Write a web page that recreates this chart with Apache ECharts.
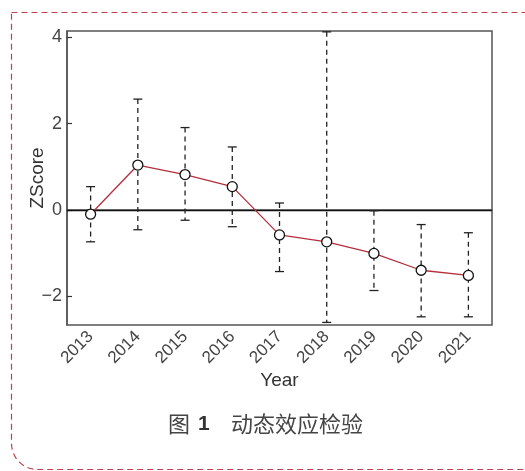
<!DOCTYPE html>
<html>
<head>
<meta charset="utf-8">
<style>
  html, body { margin: 0; padding: 0; background: #fff; }
  #chart { width: 525px; height: 471px; }
</style>
<script src="https://cdn.jsdelivr.net/npm/echarts@6/dist/echarts.min.js"></script>
</head>
<body>
<div id="chart"></div>
<script>
// Event-study estimates by year with confidence bounds
const years = ['2013', '2014', '2015', '2016', '2017', '2018', '2019', '2020', '2021'];
const zScore = [-0.10, 1.04, 0.82, 0.54, -0.58, -0.74, -1.01, -1.40, -1.52];
const upper = [0.54, 2.57, 1.91, 1.46, 0.16, 4.13, -0.02, -0.34, -0.53];
const lower = [-0.74, -0.46, -0.24, -0.39, -1.43, -2.61, -1.87, -2.48, -2.48];
const yTicks = [-2, 0, 2, 4];

const labelFont = 'Liberation Sans, Arial, sans-serif';
const cjkFont = '"Noto Sans CJK SC", sans-serif';

const errorData = years.map((y, i) => [i, upper[i], lower[i]]);

const chart = echarts.init(document.getElementById('chart'), null, { renderer: 'canvas' });

chart.setOption({
  animation: false,
  backgroundColor: '#fff',
  graphic: [
    {
      type: 'rect',
      left: 9, top: 10,
      shape: { width: 530, height: 457, r: [0, 12, 0, 26] },
      style: { fill: 'none', stroke: '#c1404f', lineWidth: 1.2, lineDash: [6, 4] },
      silent: true
    },
    {
      type: 'text',
      left: 168, top: 413,
      style: { text: '图', font: '22px ' + cjkFont, fill: '#444' }
    },
    {
      type: 'text',
      left: 198, top: 414,
      style: { text: '1', font: 'bold 21px ' + labelFont, fill: '#333' }
    },
    {
      type: 'text',
      left: 231, top: 413,
      style: { text: '动态效应检验', font: '22px ' + cjkFont, fill: '#444' }
    }
  ],
  grid: {
    left: 67, right: 33, top: 31, bottom: 146,
    show: true, borderColor: '#555', borderWidth: 1.5, backgroundColor: 'transparent'
  },
  xAxis: {
    type: 'category',
    data: years,
    boundaryGap: true,
    name: 'Year',
    nameLocation: 'middle',
    nameGap: 46,
    nameMoveOverlap: false,
    nameTextStyle: { fontFamily: labelFont, fontSize: 19, color: '#333' },
    axisLine: { lineStyle: { color: '#555', width: 1.5 } },
    axisTick: { inside: true, alignWithLabel: true, length: 5, lineStyle: { color: '#333', width: 1.2 } },
    axisLabel: {
      rotate: 45, fontFamily: labelFont, fontSize: 17, color: '#444', margin: 9
    },
    splitLine: { show: false }
  },
  yAxis: {
    type: 'value',
    min: -2.67, max: 4.15,
    name: 'ZScore',
    nameLocation: 'middle',
    nameGap: 20,
    nameMoveOverlap: false,
    nameTextStyle: { fontFamily: labelFont, fontSize: 19, color: '#333' },
    axisLine: { show: true, lineStyle: { color: '#555', width: 1.5 } },
    axisTick: { show: true, inside: true, length: 5, customValues: yTicks, lineStyle: { color: '#333', width: 1.2 } },
    axisLabel: {
      customValues: yTicks, fontFamily: labelFont, fontSize: 18, color: '#444', margin: 5,
      formatter: v => (v < 0 ? '\u2212' + Math.abs(v) : String(v))
    },
    splitLine: { show: false }
  },
  series: [
    {
      type: 'custom',
      name: 'CI',
      z: 2,
      data: errorData,
      encode: { x: 0, y: [1, 2] },
      renderItem: function (params, api) {
        const x = api.value(0);
        const pHi = api.coord([x, api.value(1)]);
        const pLo = api.coord([x, api.value(2)]);
        const half = 4.5;
        const solid = { stroke: '#222', lineWidth: 1.3 };
        return {
          type: 'group',
          children: [
            { type: 'line', shape: { x1: pHi[0], y1: pHi[1], x2: pLo[0], y2: pLo[1] },
              style: { stroke: '#222', lineWidth: 1.3, lineDash: [5, 4] } },
            { type: 'line', shape: { x1: pHi[0] - half, y1: pHi[1], x2: pHi[0] + half, y2: pHi[1] }, style: solid },
            { type: 'line', shape: { x1: pLo[0] - half, y1: pLo[1], x2: pLo[0] + half, y2: pLo[1] }, style: solid }
          ]
        };
      }
    },
    {
      type: 'line',
      name: 'ZScore',
      z: 5,
      data: zScore,
      symbol: 'circle',
      symbolSize: 10,
      lineStyle: { color: '#b52e3c', width: 1.3 },
      itemStyle: { color: '#fff', borderColor: '#111', borderWidth: 1.3 },
      markLine: {
        silent: true,
        symbol: 'none',
        label: { show: false },
        lineStyle: { color: '#111', width: 1.3, type: 'solid' },
        data: [{ yAxis: 0 }],
        z: 1
      }
    }
  ]
});
</script>
</body>
</html>
